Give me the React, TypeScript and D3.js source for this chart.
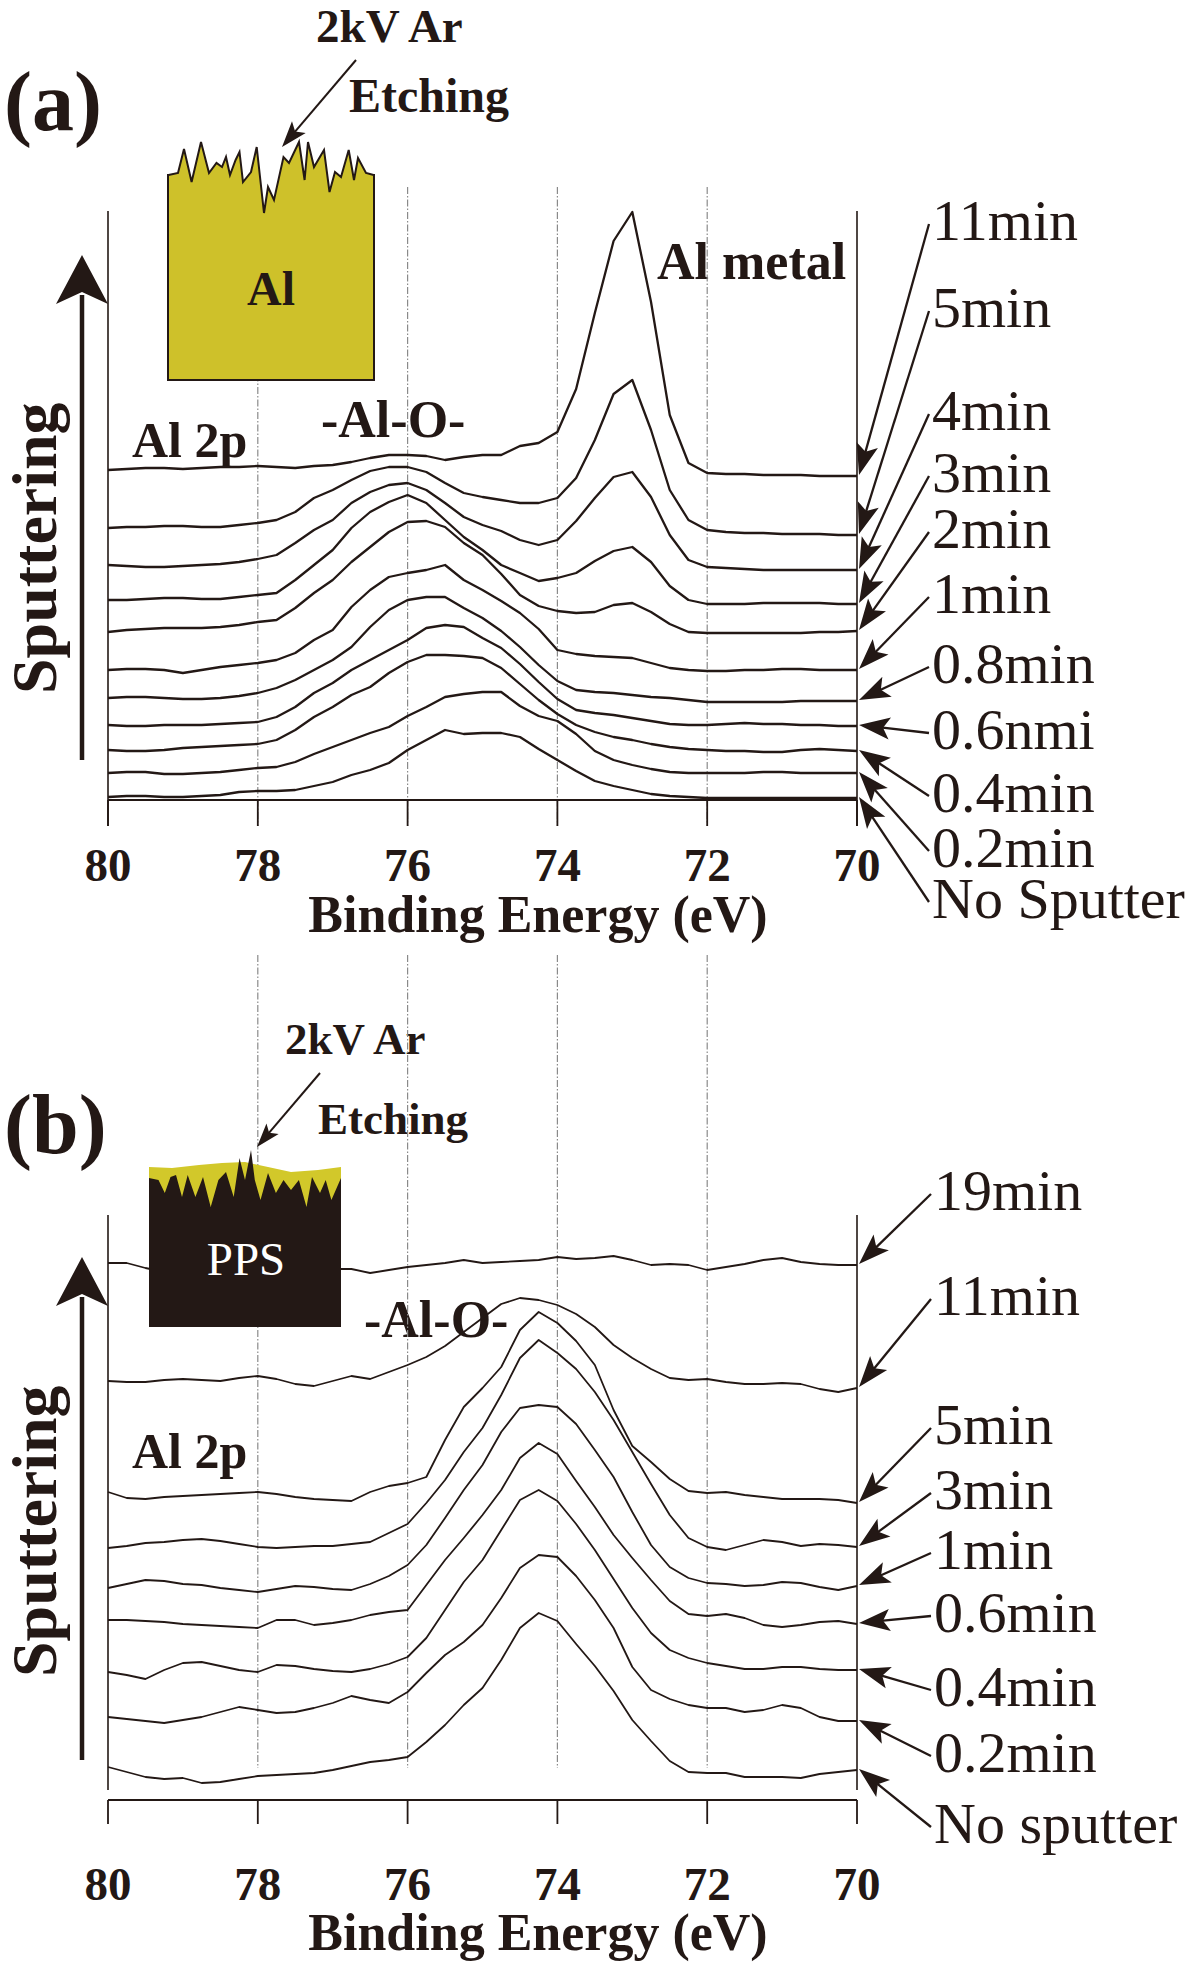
import React from "react";
import * as d3 from "d3";

// ---------- DATA ----------
const energyEv = [80, 79.75, 79.5, 79.25, 79, 78.75, 78.5, 78.25, 78, 77.75, 77.5, 77.25, 77, 76.75, 76.5, 76.25, 76, 75.75, 75.5, 75.25, 75, 74.75, 74.5, 74.25, 74, 73.75, 73.5, 73.25, 73, 72.75, 72.5, 72.25, 72, 71.75, 71.5, 71.25, 71, 70.75, 70.5, 70.25, 70];
const tickEv = [80, 78, 76, 74, 72, 70];
const gridEv = [78, 76, 74, 72];

// (a) Al sheet, Al 2p stacked spectra (a.u., displayed offsets included)
const a11min = [330, 331, 332, 332, 331, 332, 333, 333, 334, 333, 332, 334, 335, 338, 342, 345, 345, 344, 340, 343, 345, 345, 354, 357, 368, 411, 487, 559, 588, 498, 385, 337, 327, 326, 326, 325, 325, 325, 324, 324, 324];
const a5min = [272, 273, 273, 274, 274, 273, 273, 275, 277, 280, 288, 302, 310, 320, 329, 333, 333, 328, 317, 307, 303, 300, 297, 297, 302, 322, 360, 406, 420, 370, 310, 280, 270, 268, 267, 267, 266, 266, 266, 265, 265];
const a4min = [235, 234, 233, 233, 234, 235, 236, 238, 241, 245, 257, 270, 280, 297, 308, 315, 317, 310, 297, 283, 275, 269, 260, 255, 260, 279, 302, 323, 328, 303, 265, 240, 233, 232, 231, 230, 230, 230, 230, 230, 230];
const a3min = [200, 200, 201, 202, 202, 201, 201, 203, 205, 207, 220, 235, 250, 272, 288, 298, 305, 297, 280, 263, 250, 235, 227, 219, 222, 227, 239, 249, 253, 238, 214, 200, 196, 196, 196, 197, 197, 197, 197, 196, 196];
const a2min = [168, 170, 171, 172, 172, 172, 173, 175, 178, 180, 192, 207, 220, 238, 253, 268, 278, 279, 273, 257, 245, 226, 205, 194, 189, 187, 188, 195, 197, 188, 176, 168, 167, 167, 167, 167, 167, 167, 168, 168, 169];
const a1min = [130, 131, 131, 130, 127, 130, 133, 135, 137, 140, 147, 160, 170, 193, 210, 223, 227, 230, 235, 220, 210, 199, 187, 171, 150, 146, 144, 143, 142, 137, 132, 130, 129, 129, 130, 130, 131, 131, 130, 130, 130];
const a08min = [102, 103, 103, 102, 101, 101, 102, 104, 107, 112, 120, 130, 140, 153, 173, 190, 200, 203, 203, 192, 182, 169, 153, 135, 119, 110, 108, 107, 105, 103, 102, 100, 98, 98, 98, 98, 98, 99, 99, 99, 99];
const a06min = [75, 74, 74, 75, 75, 75, 76, 77, 78, 83, 93, 107, 117, 130, 140, 150, 160, 172, 175, 173, 162, 152, 136, 118, 101, 90, 87, 85, 82, 79, 76, 75, 75, 76, 77, 76, 76, 75, 75, 74, 74];
const a04min = [50, 49, 49, 50, 52, 53, 54, 55, 56, 60, 70, 83, 93, 105, 113, 127, 138, 145, 145, 144, 142, 132, 116, 100, 86, 75, 68, 63, 60, 56, 53, 51, 50, 49, 49, 48, 48, 50, 51, 50, 49];
const a02min = [27, 28, 28, 26, 26, 27, 28, 30, 32, 33, 38, 46, 53, 60, 67, 73, 84, 93, 103, 106, 108, 108, 94, 84, 79, 66, 49, 40, 35, 31, 28, 27, 27, 27, 27, 28, 28, 27, 27, 27, 27];
const a0min = [3, 4, 4, 3, 3, 4, 5, 8, 9, 9, 10, 14, 18, 25, 30, 37, 50, 60, 70, 66, 67, 67, 63, 51, 40, 29, 19, 14, 10, 6, 4, 3, 2, 2, 2, 2, 2, 2, 2, 2, 2];
const aLabels = ["11min", "5min", "4min", "3min", "2min", "1min", "0.8min", "0.6nmi", "0.4min", "0.2min", "No Sputter"];

// (b) PPS, Al 2p stacked spectra
const b19min = [537, 537, 532, 528, 528, 529, 530, 530, 531, 531, 530, 530, 531, 531, 527, 530, 533, 535, 537, 540, 537, 538, 539, 540, 543, 541, 542, 544, 540, 535, 536, 535, 530, 533, 536, 540, 542, 538, 536, 535, 535];
const b11min = [419, 418, 418, 420, 421, 420, 419, 422, 424, 421, 416, 414, 419, 424, 421, 428, 435, 443, 454, 468, 482, 496, 502, 500, 495, 486, 473, 455, 442, 431, 422, 420, 421, 418, 416, 416, 417, 416, 411, 408, 412];
const b5min = [308, 302, 301, 303, 304, 305, 306, 307, 308, 306, 303, 301, 300, 299, 308, 314, 317, 323, 360, 393, 412, 433, 470, 488, 477, 459, 435, 390, 354, 338, 321, 309, 307, 308, 305, 303, 301, 301, 301, 300, 297];
const b3min = [252, 254, 257, 258, 260, 261, 259, 256, 253, 252, 253, 254, 254, 256, 258, 267, 276, 297, 320, 348, 372, 405, 442, 460, 447, 431, 408, 380, 348, 316, 285, 262, 253, 250, 255, 260, 258, 254, 256, 255, 253];
const b1min = [212, 216, 220, 219, 216, 215, 212, 210, 208, 211, 214, 213, 211, 210, 216, 224, 235, 255, 282, 310, 335, 368, 392, 395, 393, 376, 350, 323, 288, 255, 233, 222, 217, 216, 214, 215, 218, 217, 213, 210, 214];
const b06min = [180, 180, 179, 178, 176, 175, 174, 173, 172, 180, 180, 175, 177, 180, 185, 188, 190, 215, 240, 262, 285, 310, 342, 357, 346, 319, 293, 265, 242, 220, 199, 186, 184, 186, 182, 175, 173, 175, 178, 179, 176];
const b04min = [128, 125, 121, 130, 137, 138, 134, 130, 128, 135, 134, 131, 129, 128, 131, 136, 143, 162, 190, 218, 240, 270, 300, 310, 299, 276, 250, 221, 192, 167, 150, 142, 137, 134, 131, 131, 133, 133, 131, 130, 130];
const b02min = [83, 81, 79, 77, 80, 83, 88, 93, 90, 87, 88, 92, 97, 104, 100, 97, 108, 127, 145, 158, 175, 202, 232, 245, 243, 224, 200, 172, 133, 110, 101, 95, 92, 92, 88, 90, 95, 92, 83, 79, 79];
const b0min = [33, 28, 23, 21, 22, 17, 18, 21, 24, 25, 26, 27, 30, 34, 38, 40, 43, 58, 75, 95, 112, 140, 172, 187, 179, 156, 134, 109, 80, 59, 39, 28, 27, 27, 23, 23, 23, 22, 26, 28, 30];
const bLabels = ["19min", "11min", "5min", "3min", "1min", "0.6min", "0.4min", "0.2min", "No sputter"];

const aSeries = [a11min, a5min, a4min, a3min, a2min, a1min, a08min, a06min, a04min, a02min, a0min];
const bSeries = [b19min, b11min, b5min, b3min, b1min, b06min, b04min, b02min, b0min];

// ---------- LAYOUT / STYLE ----------
const FONT = "'Liberation Serif', 'Times New Roman', Times, serif";
const INK = "#231815";
const GRID = "#8a8a8a";

const x = d3.scaleLinear().domain([80, 70]).range([108, 857]);
const yA = d3.scaleLinear().domain([0, 600]).range([800, 200]);
const yB = d3.scaleLinear().domain([0, 600]).range([1800, 1200]);

const aLabelBaseline = [240, 327, 430, 492, 548, 613, 683, 749, 812, 867, 918];
const bLabelBaseline = [1210, 1315, 1444, 1509, 1569, 1632, 1706, 1772, 1843];

// decorative sample sketches (relative to box origin)
const alJag = [[0.6, 0], [10, -2], [16, -26], [23.6, 7], [33, -33], [41, -2], [48.5, -12], [54, -8], [58, -18], [62, 0], [67.6, -15], [71.5, -23], [75, 7], [83, -3], [88.7, -28], [96, 38], [100, 12], [106, 25], [115.5, -18], [121, -12], [131, -33], [136.6, 5], [140, -33], [146, -8], [156, -25], [161.5, 17], [167, -3], [173, 2], [180.7, -25], [186, 5], [190, -17], [198, -2], [205.6, 0]];
const ppsYellowTop = [[0, -11], [23, -10], [50, -13], [73, -15], [96, -16], [119, -11], [142, -6], [169, -8], [192, -11]];
const ppsBlackTop = [[0, 0], [9.5, 2], [15.8, 15], [21.5, -1], [27, -3], [33, 19], [38.7, -3], [46.4, 19], [54, -1], [61.7, 29], [69.4, 2], [77, -6], [84.7, 19], [90.5, -20], [96, 2], [102, -28], [105.8, 2], [111.5, 22], [119, -5], [126.9, 15], [134.5, 2], [142, 12], [149.9, 2], [157.5, 29], [163, -1], [171, 15], [176.7, 2], [182.4, 22], [192, 0]];

function headPath(x1: number, y1: number, x2: number, y2: number, len: number, half: number) {
  const dx = x2 - x1, dy = y2 - y1;
  const L = Math.hypot(dx, dy);
  const ux = dx / L, uy = dy / L;
  const bx = x2 - ux * len, by = y2 - uy * len;
  const px = -uy, py = ux;
  const nx = bx + ux * len * 0.22, ny = by + uy * len * 0.22;
  return `M${x2},${y2}L${bx + px * half},${by + py * half}L${nx},${ny}L${bx - px * half},${by - py * half}Z`;
}

function Arrow({ x1, y1, x2, y2, len = 31, half = 11, w = 2.3 }: any) {
  const dx = x2 - x1, dy = y2 - y1;
  const L = Math.hypot(dx, dy);
  const ex = x2 - (dx / L) * len * 0.7, ey = y2 - (dy / L) * len * 0.7;
  return (
    <g>
      <line x1={x1} y1={y1} x2={ex} y2={ey} stroke={INK} strokeWidth={w} />
      <path d={headPath(x1, y1, x2, y2, len, half)} fill={INK} />
    </g>
  );
}

function Panel({ y, series, labels, labelBase, frameTop, frameBottom, axisJoin, tickBottom, gridTop, gridBottom, lineW, tickLabelBase, titleBase, labelX }: any) {
  const line = d3.line<number>().x((_: number, i: number) => x(energyEv[i])).y((d: number) => y(d));
  const axisY = y(0);
  return (
    <g>
      {gridEv.map((e) => (
        <line key={"g" + e} x1={x(e)} x2={x(e)} y1={gridTop} y2={gridBottom} stroke={GRID} strokeWidth={1.2} strokeDasharray="7,2,1.5,2" />
      ))}
      <line x1={x(80)} x2={x(80)} y1={frameTop} y2={frameBottom} stroke={INK} strokeWidth={1.6} />
      <line x1={x(70)} x2={x(70)} y1={frameTop} y2={frameBottom} stroke={INK} strokeWidth={1.6} />
      <line x1={x(80)} x2={x(70)} y1={axisY} y2={axisY} stroke={INK} strokeWidth={2} />
      {tickEv.map((e) => (
        <line key={"t" + e} x1={x(e)} x2={x(e)} y1={axisJoin} y2={tickBottom} stroke={INK} strokeWidth={1.8} />
      ))}
      {tickEv.map((e) => (
        <text key={"tl" + e} x={x(e)} y={tickLabelBase} textAnchor="middle" fontSize={47} fontWeight="bold" fill={INK}>{e}</text>
      ))}
      <text x={538} y={titleBase} textAnchor="middle" fontSize={52} fontWeight="bold" fill={INK}>Binding Energy (eV)</text>
      {series.map((s: number[], i: number) => (
        <path key={"s" + i} d={line(s) || ""} fill="none" stroke={INK} strokeWidth={lineW} strokeLinejoin="round" />
      ))}
      {labels.map((lab: string, i: number) => {
        const s = series[i];
        const endY = y(s[s.length - 1]);
        const base = labelBase[i];
        return (
          <g key={"l" + i}>
            <Arrow x1={labelX - 3} y1={base - 16} x2={x(70) + 2} y2={endY - 1} />
            <text x={labelX} y={base} fontSize={58} fill={INK}>{lab}</text>
          </g>
        );
      })}
    </g>
  );
}

function SputterArrow({ tip, bottom }: any) {
  return (
    <g>
      <line x1={82} x2={82} y1={bottom} y2={tip + 40} stroke={INK} strokeWidth={4.5} />
      <path d={`M82,${tip}L56,${tip + 49}L82,${tip + 37}L108,${tip + 49}Z`} fill={INK} />
    </g>
  );
}

export default function App() {
  const al = { x: 168, y: 175, w: 206, h: 205 };
  const alPath =
    "M" + al.x + "," + (al.y + al.h) + "L" + al.x + "," + al.y +
    alJag.map((p) => `L${al.x + p[0]},${al.y + p[1]}`).join("") +
    `L${al.x + al.w},${al.y}L${al.x + al.w},${al.y + al.h}Z`;
  const pps = { x: 149, y: 1178, w: 192, h: 149 };
  const yellowPath =
    `M${pps.x},${pps.y + 35}` + ppsYellowTop.map((p) => `L${pps.x + p[0]},${pps.y + p[1]}`).join("") + `L${pps.x + pps.w},${pps.y + 35}Z`;
  const blackPath =
    `M${pps.x},${pps.y + pps.h}` + ppsBlackTop.map((p) => `L${pps.x + p[0]},${pps.y + p[1]}`).join("") + `L${pps.x + pps.w},${pps.y + pps.h}Z`;

  return (
    <svg width={1200} height={1970} viewBox="0 0 1200 1970" style={{ position: "absolute", left: 0, top: 0, display: "block" }} fontFamily={FONT}>
      <rect x={0} y={0} width={1200} height={1970} fill="#ffffff" />

      {/* ---------- Panel (a) ---------- */}
      <text x={4} y={130} fontSize={84} fontWeight="bold" fill={INK}>(a)</text>
      <text x={316} y={42} fontSize={47} fontWeight="bold" fill={INK}>2kV Ar</text>
      <text x={349} y={112} fontSize={48} fontWeight="bold" fill={INK}>Etching</text>
      <text x={132} y={457} fontSize={50} fontWeight="bold" fill={INK}>Al 2p</text>
      <text x={321} y={437} fontSize={52} fontWeight="bold" fill={INK}>-Al-O-</text>
      <text x={657} y={279} fontSize={52} fontWeight="bold" fill={INK}>Al metal</text>
      <text transform="translate(56,694) rotate(-90)" fontSize={64} fontWeight="bold" fill={INK}>Sputtering</text>
      <SputterArrow tip={255} bottom={760} />
      <Panel
        y={yA} series={aSeries} labels={aLabels} labelBase={aLabelBaseline}
        frameTop={211} frameBottom={826} axisJoin={800} tickBottom={826}
        gridTop={187} gridBottom={826} lineW={2.3} tickLabelBase={881} titleBase={932} labelX={932}
      />
      <path d={alPath} fill="#CEC12A" stroke={INK} strokeWidth={2} strokeLinejoin="miter" />
      <text x={al.x + 103} y={305} textAnchor="middle" fontSize={48} fontWeight="bold" fill={INK}>Al</text>
      <Arrow x1={356} y1={60} x2={282} y2={147} len={26} half={9} w={2} />

      {/* ---------- Panel (b) ---------- */}
      <text x={4} y={1153} fontSize={84} fontWeight="bold" fill={INK}>(b)</text>
      <text x={285} y={1054} fontSize={45} fontWeight="bold" fill={INK}>2kV Ar</text>
      <text x={318} y={1134} fontSize={45} fontWeight="bold" fill={INK}>Etching</text>
      <text x={132} y={1468} fontSize={50} fontWeight="bold" fill={INK}>Al 2p</text>
      <text x={364} y={1337} fontSize={52} fontWeight="bold" fill={INK}>-Al-O-</text>
      <text transform="translate(56,1677) rotate(-90)" fontSize={64} fontWeight="bold" fill={INK}>Sputtering</text>
      <SputterArrow tip={1257} bottom={1760} />
      <Panel
        y={yB} series={bSeries} labels={bLabels} labelBase={bLabelBaseline}
        frameTop={1215} frameBottom={1790} axisJoin={1800} tickBottom={1824}
        gridTop={955} gridBottom={1768} lineW={1.8} tickLabelBase={1900} titleBase={1950} labelX={934}
      />
      <path d={yellowPath} fill="#D2C82A" />
      <path d={blackPath} fill={INK} />
      <text x={pps.x + 97} y={1275} textAnchor="middle" fontSize={47} fill="#ffffff">PPS</text>
      <Arrow x1={320} y1={1073} x2={257} y2={1147} len={24} half={8} w={2} />
    </svg>
  );
}
